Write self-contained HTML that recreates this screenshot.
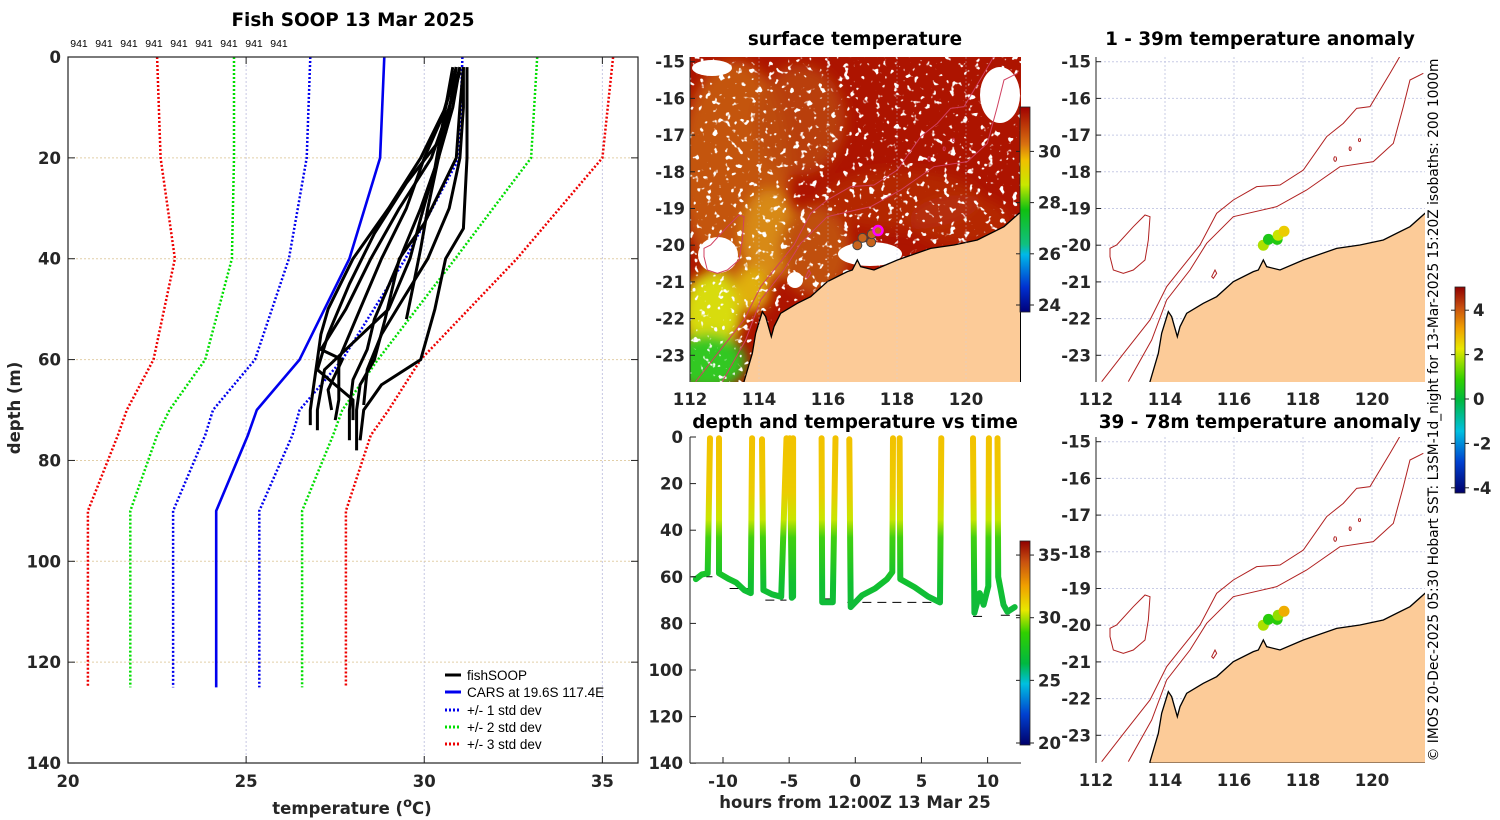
<!DOCTYPE html>
<html><head><meta charset="utf-8"><style>
html,body{margin:0;padding:0;background:#fff;}
svg{display:block;font-family:"DejaVu Sans","Liberation Sans",sans-serif;}
.tk{font-size:16.5px;font-weight:bold;fill:#262626;}
.ttl{font-size:18.4px;font-weight:bold;fill:#000;}
.lg{font-family:"Liberation Sans",sans-serif;font-size:13.5px;fill:#000;}
.sm{font-family:"Liberation Sans",sans-serif;font-size:10.5px;fill:#000;}
</style></head><body>
<svg id="fig" width="1500" height="820" viewBox="0 0 1500 820" xmlns="http://www.w3.org/2000/svg">
<defs>
 <linearGradient id="sstcb" x1="0" y1="1" x2="0" y2="0">
  <stop offset="0" stop-color="#00007a"/><stop offset="0.12" stop-color="#0030d0"/><stop offset="0.28" stop-color="#00b8e8"/>
  <stop offset="0.33" stop-color="#10c080"/><stop offset="0.5" stop-color="#10c010"/><stop offset="0.62" stop-color="#c8e800"/>
  <stop offset="0.74" stop-color="#f0c000"/><stop offset="0.82" stop-color="#d87010"/><stop offset="1" stop-color="#a00000"/>
 </linearGradient>
 <linearGradient id="anocb" x1="0" y1="1" x2="0" y2="0">
  <stop offset="0" stop-color="#00006a"/><stop offset="0.15" stop-color="#0040d0"/><stop offset="0.3" stop-color="#00c0e0"/>
  <stop offset="0.45" stop-color="#00b840"/><stop offset="0.55" stop-color="#30d000"/><stop offset="0.7" stop-color="#e8e800"/>
  <stop offset="0.8" stop-color="#f0a000"/><stop offset="0.9" stop-color="#c85010"/><stop offset="1" stop-color="#900000"/>
 </linearGradient>
 <linearGradient id="tcb" x1="0" y1="1" x2="0" y2="0">
  <stop offset="0" stop-color="#00006a"/><stop offset="0.15" stop-color="#0040d0"/><stop offset="0.3" stop-color="#00c0e0"/>
  <stop offset="0.4" stop-color="#00b840"/><stop offset="0.55" stop-color="#30d000"/><stop offset="0.66" stop-color="#e8e800"/>
  <stop offset="0.78" stop-color="#f0a000"/><stop offset="0.9" stop-color="#c85010"/><stop offset="1" stop-color="#900000"/>
 </linearGradient>
 <linearGradient id="divegrad" gradientUnits="userSpaceOnUse" x1="0" y1="437" x2="0" y2="620">
  <stop offset="0" stop-color="#f2c200"/><stop offset="0.3" stop-color="#eccc00"/><stop offset="0.45" stop-color="#c8e600"/>
  <stop offset="0.55" stop-color="#40d010"/><stop offset="0.8" stop-color="#10c030"/><stop offset="1" stop-color="#10b840"/>
 </linearGradient>
 <clipPath id="cm"><rect x="690" y="57" width="331" height="325"/></clipPath>
 <clipPath id="cr1"><rect x="1096" y="57" width="329" height="325"/></clipPath>
 <clipPath id="cr2"><rect x="1096" y="437" width="329" height="326"/></clipPath>
 <filter id="blur6"><feGaussianBlur stdDeviation="6"/></filter>
 <filter id="speck" x="0" y="0" width="1" height="1">
  <feTurbulence type="fractalNoise" baseFrequency="0.16" numOctaves="2" seed="4" result="n"/>
  <feColorMatrix in="n" type="matrix" values="0 0 0 0 1  0 0 0 0 1  0 0 0 0 1  0 0 0 12 -7.6"/>
 </filter>
</defs>

<!-- ===== LEFT PROFILE CHART ===== -->
<g id="left">
 <text class="ttl" x="353" y="26" text-anchor="middle">Fish SOOP 13 Mar 2025</text>
 <g id="lgrid"></g>
 <g id="llines"></g>
 <rect x="68" y="57" width="570" height="706" fill="none" stroke="#222" stroke-width="1.2"/>
 <g id="lticks"></g>
 <g id="n941"></g>
 <text class="tk" transform="translate(20,408) rotate(-90)" text-anchor="middle" font-size="19.5">depth (m)</text>
 <text class="tk" x="352" y="814" text-anchor="middle" font-size="20">temperature (<tspan baseline-shift="super" font-size="13">o</tspan>C)</text>
 <g id="legend">
  <line x1="445" y1="675" x2="461" y2="675" stroke="#000" stroke-width="3"/>
  <text class="lg" x="467" y="680">fishSOOP</text>
  <line x1="445" y1="692" x2="461" y2="692" stroke="#0000ee" stroke-width="3"/>
  <text class="lg" x="467" y="697">CARS at 19.6S 117.4E</text>
  <line x1="445" y1="710" x2="461" y2="710" stroke="#0000ee" stroke-width="3" stroke-dasharray="2,2"/>
  <text class="lg" x="467" y="715">+/- 1 std dev</text>
  <line x1="445" y1="727" x2="461" y2="727" stroke="#00dd00" stroke-width="3" stroke-dasharray="2,2"/>
  <text class="lg" x="467" y="732">+/- 2 std dev</text>
  <line x1="445" y1="744" x2="461" y2="744" stroke="#ee0000" stroke-width="3" stroke-dasharray="2,2"/>
  <text class="lg" x="467" y="749">+/- 3 std dev</text>
 </g>
</g>

<!-- ===== SURFACE TEMPERATURE MAP ===== -->
<g id="sstmap">
 <text class="ttl" x="855" y="45" text-anchor="middle">surface temperature</text>
 <g clip-path="url(#cm)">
  <rect x="690" y="57" width="331" height="325" fill="#ad1400"/>
  <g filter="url(#blur6)">
   <ellipse cx="735" cy="170" rx="55" ry="110" fill="#c4540c"/>
   <ellipse cx="800" cy="120" rx="45" ry="55" fill="#bb4a0c" opacity="0.8"/>
   <ellipse cx="770" cy="235" rx="28" ry="45" fill="#d88a12"/>
   <ellipse cx="815" cy="250" rx="35" ry="45" fill="#c05010"/>
   <ellipse cx="900" cy="200" rx="80" ry="30" fill="#b52a06" opacity="0.8"/>
   <ellipse cx="960" cy="220" rx="50" ry="25" fill="#b83008" opacity="0.7"/>
   <ellipse cx="712" cy="312" rx="30" ry="40" fill="#d8dc08"/>
   <ellipse cx="752" cy="290" rx="18" ry="22" fill="#e0b010"/>
   <ellipse cx="708" cy="362" rx="38" ry="28" fill="#30c820"/>
  </g>
  <rect x="690" y="57" width="331" height="325" filter="url(#speck)"/>
  <g fill="#fff">
   <ellipse cx="712" cy="68" rx="20" ry="8"/><ellipse cx="1000" cy="95" rx="20" ry="28"/>
   <ellipse cx="718" cy="255" rx="20" ry="18"/><ellipse cx="870" cy="254" rx="32" ry="12"/>
   <ellipse cx="795" cy="280" rx="8" ry="8"/>
  </g>
  <g id="mapgeo-m" transform="translate(684,40) scale(0.33333)"></g>
 </g>
 <g id="mdots"></g>
 <line x1="690" y1="57" x2="690" y2="382" stroke="#222"/>
 <g id="maxes"></g>
 <rect x="1020" y="107" width="10" height="205" fill="url(#sstcb)" stroke="#222" stroke-width="0.8"/>
 <g id="sstcbticks"></g>
</g>

<!-- ===== DEPTH/TIME PLOT ===== -->
<g id="dtplot">
 <text class="ttl" x="855" y="428" text-anchor="middle">depth and temperature vs time</text>
 <g id="dtmarks"></g>
 <line x1="690" y1="437" x2="690" y2="763" stroke="#222"/>
 <line x1="690" y1="763" x2="1021" y2="763" stroke="#222"/>
 <g id="dtaxes"></g>
 <text class="tk" x="855" y="808" text-anchor="middle" font-size="19.5">hours from 12:00Z 13 Mar 25</text>
 <rect x="1020" y="541" width="10" height="204" fill="url(#tcb)" stroke="#222" stroke-width="0.8"/>
 <g id="tcbticks"></g>
</g>

<!-- ===== ANOMALY MAPS ===== -->
<g id="ano1">
 <text class="ttl" x="1260" y="45" text-anchor="middle">1 - 39m temperature anomaly</text>
 <g id="grid-r1"></g>
 <g clip-path="url(#cr1)"><g id="mapgeo-r1" transform="translate(1090,40) scale(0.33333)"></g></g>
 <g id="r1dots"></g>
 <line x1="1096" y1="57" x2="1096" y2="382" stroke="#222"/>
 <g id="r1axes"></g>
</g>
<g id="ano2">
 <text class="ttl" x="1260" y="428" text-anchor="middle">39 - 78m temperature anomaly</text>
 <g id="grid-r2"></g>
 <g clip-path="url(#cr2)"><g id="mapgeo-r2" transform="translate(1090,420) scale(0.33333)"></g></g>
 <g id="r2dots"></g>
 <line x1="1096" y1="437" x2="1096" y2="763" stroke="#222"/>
 <g id="r2axes"></g>
</g>
<rect x="1455" y="287" width="10" height="206" fill="url(#anocb)" stroke="#222" stroke-width="0.8"/>
<g id="anocbticks"></g>
<text transform="translate(1438,410) rotate(-90)" text-anchor="middle" font-size="13.8" fill="#000">© IMOS 20-Dec-2025 05:30 Hobart SST: L3SM-1d_night for 13-Mar-2025 15:20Z isobaths: 200  1000m</text>
</svg>
<script>
// ---------- profile chart data ----------
const carsDepth = [0,20,40,60,70,75,90,125];
const carsMean  = [28.88,28.76,27.9,26.5,25.3,25.05,24.16,24.16];
const carsM1 = [26.8,26.7,26.2,25.25,24.07,23.85,22.95,22.95];
const carsP1 = [31.07,30.98,29.47,27.7,26.5,26.3,25.37,25.37];
const carsM2 = [24.66,24.66,24.6,23.85,22.85,22.5,21.75,21.75];
const carsP2 = [33.17,33.0,30.87,28.7,27.7,27.44,26.57,26.57];
const carsM3 = [22.5,22.6,23.0,22.4,21.65,21.4,20.56,20.56];
const carsP3 = [35.3,35.0,32.6,29.9,29.0,28.5,27.8,27.8];
const profDepths = [
 [2,10,20,30,40,50,55,60,65,70,73],
 [2,10,20,30,40,50,58,60,66,70],
 [2,12,20,30,40,50,60,68,72],
 [2,10,20,33,40,52,60,65,70,78],
 [2,10,20,30,40,48,55,62,69],
 [2,10,20,34,40,50,60,65,70,76],
 [3,10,20,30,38,45,52],
 [2,15,25,35,45,55,62,68,72],
 [2,10,20,30,42,52,58,64,70,76],
 [2,10,22,32,40,50,62,70,74]
];
const profTemps = [
 [30.9,30.6,29.9,29.0,28.0,27.3,27.1,27.0,26.9,26.8,26.8],
 [31.0,30.7,30.2,29.3,28.5,27.8,27.1,27.7,27.3,27.4],
 [30.9,30.5,30.0,29.5,28.8,28.2,27.6,27.6,27.5],
 [31.1,31.0,30.9,30.0,29.3,28.9,28.6,28.2,28.1,28.1],
 [31.1,31.1,31.0,30.7,30.1,29.4,28.8,28.4,28.3],
 [31.2,31.2,31.2,31.1,30.6,30.3,29.9,28.8,28.3,28.2],
 [31.0,30.7,30.4,30.1,29.9,29.7,29.5],
 [30.9,30.6,29.5,28.6,27.9,27.3,27.0,28.0,28.0],
 [31.0,30.8,30.4,29.9,29.2,28.6,28.4,28.0,27.9,27.9],
 [30.8,30.6,30.3,29.9,29.6,29.0,27.2,27.0,27.0]
];
const tTicks = [20,25,30,35];
const dTicks = [0,20,40,60,80,100,120,140];
// ---------- depth-time data ----------
const diveTimes = [
 [-12.05,-11.6,-11.16,-10.98],
 [-10.3,-10.3,-9.55,-9.0,-8.4,-7.9,-7.8],
 [-7.05,-6.95,-6.3,-5.6,-5.2],
 [-4.95,-4.8,-4.7,-4.7],
 [-2.55,-2.5,-1.7,-1.5],
 [-0.45,-0.35,0.5,1.5,2.4,2.8,2.85],
 [3.35,3.4,4.5,5.5,6.4,6.5],
 [8.9,9.0,9.4,9.7,10.05,10.1],
 [10.75,10.8,11.2,11.5,12.05]
];
const diveDepths = [
 [61,59,58.5,0.5],
 [0.5,58.5,61,62.5,65.7,67,0.5],
 [1,65.7,67.5,68.6,0.5],
 [0.5,69,68.5,0.5],
 [0.5,70.9,70.9,0.5],
 [1,73,68,65,61,58,0.5],
 [0.5,61,64.5,68.5,71,0.5],
 [0.5,75.5,67,72,64,0.5],
 [0.5,60,72,75,73]
];
const bottomT0 = [-12.4,-9.5,-6.8,-2.5,-0.6,8.9,11.0];
const bottomT1 = [-10.8,-7.9,-5.2,-1.5,6.5,10.0,12.6];
const bottomD  = [60,65,70,69.5,71,77,76.5];
const hourTicks = [-10,-5,0,5,10];
const dtDepthTicks = [0,20,40,60,80,100,120,140];
// ---------- map dots ----------
const sstDotLon = [116.85,117.0,117.25,117.27];
const sstDotLat = [-20.0,-19.8,-19.92,-19.7];
const shipLon = [117.45], shipLat = [-19.6];
const anoLon = [116.85,117.0,117.25,117.28,117.45];
const anoLat = [-20.0,-19.84,-19.84,-19.73,-19.62];
const ano1 = [2.0,0.7,0.8,2.2,2.8];
const ano2 = [2.0,0.9,0.9,1.8,3.2];
const lonTicks = [112,114,116,118,120];
const latTicks = [-15,-16,-17,-18,-19,-20,-21,-22,-23];
const sstCbTicks = [24,26,28,30];
const tCbTicks = [20,25,30,35];
const anoCbTicks = [4,2,0,-2,-4];

const NS="http://www.w3.org/2000/svg";
function mk(parent,tag,attrs){const e=document.createElementNS(NS,tag);for(const k in attrs)e.setAttribute(k,attrs[k]);parent.appendChild(e);return e;}
function txt(parent,x,y,s,anchor,cls){const e=mk(parent,'text',{x:x,y:y,'text-anchor':anchor||'middle','class':cls||'tk'});e.textContent=s;return e;}
const $=id=>document.getElementById(id);

// ----- left chart -----
const xT=t=>68+(t-20)*35.625, yD=d=>57+d*5.043;
const lg=$('lgrid');
tTicks.forEach(t=>{ if(t>20){const l=mk(lg,'line',{x1:xT(t),x2:xT(t),y1:57,y2:763,stroke:'#c6c8e4','stroke-dasharray':'2,2'});

}});
dTicks.forEach(d=>{ if(d>0&&d<140){const l=mk(lg,'line',{x1:68,x2:638,y1:yD(d),y2:yD(d),stroke:'#e2cfa8','stroke-dasharray':'2,2'});

}});
const ll=$('llines');
function pline(ds,ts,col,w,dash,name){const pts=ds.map((d,i)=>xT(ts[i]).toFixed(1)+','+yD(d).toFixed(1)).join(' ');
 const p=mk(ll,'polyline',{points:pts,fill:'none',stroke:col,'stroke-width':w,'stroke-linejoin':'round'});
 if(dash)p.setAttribute('stroke-dasharray',dash);
 
 }
pline(carsDepth,carsM3,'#ee0000',2.5,'2,2','cars-minus-3std');
pline(carsDepth,carsP3,'#ee0000',2.5,'2,2','cars-plus-3std');
pline(carsDepth,carsM2,'#00dd00',2.5,'2,2','cars-minus-2std');
pline(carsDepth,carsP2,'#00dd00',2.5,'2,2','cars-plus-2std');
pline(carsDepth,carsM1,'#0000ee',2.5,'2,2','cars-minus-1std');
pline(carsDepth,carsP1,'#0000ee',2.5,'2,2','cars-plus-1std');
pline(carsDepth,carsMean,'#0000ee',2.6,null,'cars-mean');
profDepths.forEach((ds,i)=>pline(ds,profTemps[i],'#000',3,null,'fishsoop-profile'));
const lt=$('lticks');
tTicks.forEach(t=>{mk(lt,'line',{x1:xT(t),x2:xT(t),y1:763,y2:756,stroke:'#222'});mk(lt,'line',{x1:xT(t),x2:xT(t),y1:57,y2:64,stroke:'#222'});
 const e=txt(lt,xT(t),787,String(t));
 
 });
dTicks.forEach(d=>{mk(lt,'line',{x1:68,x2:75,y1:yD(d),y2:yD(d),stroke:'#222'});mk(lt,'line',{x1:638,x2:631,y1:yD(d),y2:yD(d),stroke:'#222'});
 const e=txt(lt,61,yD(d)+6,String(d),'end');
 
 });
const n9=$('n941');
for(let i=0;i<9;i++){const e=txt(n9,79+i*25,47,'941','middle','sm');
 
 }

// ----- maps -----
const coast="M180,1025 L205,940 L215,880 L235,815 L245,830 L262,890 L270,860 L290,820 L340,790 L380,770 L430,725 L490,695 L505,690 L520,660 L530,680 L570,690 L640,660 L740,625 L810,615 L880,600 L960,560 L1005,520 L1010,520 L1010,1030 L180,1030 Z";
const iso1="M35,1025 L105,935 L180,840 L230,740 L270,690 L330,615 L380,520 L430,480 L500,440 L570,435 L640,390 L710,290 L760,250 L800,205 L840,200 L900,100 L935,40";
const iso2="M115,1025 L185,900 L230,780 L300,690 L350,610 L430,530 L560,500 L650,450 L750,380 L850,365 L910,310 L940,200 L960,120 L1000,100";
const island="M60,625 L80,615 L130,560 L165,525 L180,530 L175,600 L165,660 L130,690 L100,700 L70,690 L60,650 Z";
function geo(id,red){const g=$(id);
 const l=mk(g,'path',{d:coast,fill:'#fccb98',stroke:'#000','stroke-width':1.3,'vector-effect':'non-scaling-stroke'});
 
 
 [iso1,iso2].forEach(d=>{const p=mk(g,'path',{d:d,fill:'none',stroke:red,'stroke-width':1,'vector-effect':'non-scaling-stroke'});
  
  });
 const is=mk(g,'path',{d:island,fill:'none',stroke:red,'stroke-width':1,'vector-effect':'non-scaling-stroke'});
 
 
 const sm=mk(g,'path',{d:"M365,710 L375,690 L380,700 L370,715 Z M735,350 a4,7 0 1,0 1,0 M780,320 a3,6 0 1,0 1,0 M808,295 a3,5 0 1,0 1,0",fill:'none',stroke:red,'stroke-width':1,'vector-effect':'non-scaling-stroke'});
 
 
}
geo('mapgeo-m','#d04060');geo('mapgeo-r1','#b02020');geo('mapgeo-r2','#b02020');
function mapAxes(gid,gridId,x0,y0,h){
 const lx=lon=>x0+(lon-112)*34.5, ly=lat=>y0+4.7+(-15-lat)*36.7;
 const g=$(gid);
 if(gridId){const gg=$(gridId);
  lonTicks.forEach(lo=>{if(lo>112)mk(gg,'line',{x1:lx(lo),x2:lx(lo),y1:y0,y2:y0+h,stroke:'#c8cce6','stroke-dasharray':'2,2'});});
  latTicks.forEach(la=>mk(gg,'line',{x1:x0,x2:x0+329,y1:ly(la),y2:ly(la),stroke:'#c8cce6','stroke-dasharray':'2,2'}));}
 lonTicks.forEach(lo=>{const e=txt(g,lx(lo),y0+h+23,String(lo));
  
  });
 latTicks.forEach(la=>{mk(g,'line',{x1:x0,x2:x0+5,y1:ly(la),y2:ly(la),stroke:'#222'});
  const e=txt(g,x0-5,ly(la)+6,String(la),'end');
  
  });
 return [lx,ly];
}
const [mx,my]=mapAxes('maxes',null,690,57,325);
const gm=$('maxes');
lonTicks.forEach(lo=>{if(lo>112)mk(gm,'line',{x1:mx(lo),x2:mx(lo),y1:57,y2:382,stroke:'#c8cce6','stroke-dasharray':'2,2','stroke-opacity':0.4});});
const [r1x,r1y]=mapAxes('r1axes','grid-r1',1096,57,325);
const [r2x,r2y]=mapAxes('r2axes','grid-r2',1096,437,326);
const md=$('mdots');
sstDotLon.forEach((lo,i)=>{const c=mk(md,'circle',{cx:mx(lo),cy:my(sstDotLat[i]),r:4.5,fill:'#c8641c',stroke:'#444','stroke-width':1});
 
 });
shipLon.forEach((lo,i)=>{const c=mk(md,'circle',{cx:mx(lo),cy:my(shipLat[i]),r:4.5,fill:'#c8641c',stroke:'#ff00ff','stroke-width':2.5});
 
 });
function anoColor(v){const f=Math.max(0,Math.min(1,(v+4)/9.2));
 const st=[[0,[0,0,106]],[0.15,[0,64,208]],[0.3,[0,192,224]],[0.45,[0,184,64]],[0.55,[48,208,0]],[0.7,[232,232,0]],[0.8,[240,160,0]],[0.9,[200,80,16]],[1,[144,0,0]]];
 for(let i=1;i<st.length;i++){if(f<=st[i][0]){const a=st[i-1],b=st[i],u=(f-a[0])/(b[0]-a[0]);
  return 'rgb('+a[1].map((c,k)=>Math.round(c+(b[1][k]-c)*u)).join(',')+')';}} return 'rgb(144,0,0)';}
[[ 'r1dots',ano1,r1x,r1y],['r2dots',ano2,r2x,r2y]].forEach(([id,vals,fx,fy])=>{const g=$(id);
 anoLon.forEach((lo,i)=>{const c=mk(g,'circle',{cx:fx(lo),cy:fy(anoLat[i]),r:5.5,fill:anoColor(vals[i])});
  
  });});
// colorbar ticks
function cbTicks(id,vals,x,yOf){const g=$(id);vals.forEach(v=>{const y=yOf(v);
 mk(g,'line',{x1:x-4,x2:x,y1:y,y2:y,stroke:'#222'});mk(g,'line',{x1:x+10,x2:x+14,y1:y,y2:y,stroke:'#222'});
 const e=txt(g,x+18,y+6,String(v),'start');
 
 });}
cbTicks('sstcbticks',sstCbTicks,1020,v=>305-(v-24)*25.6);
cbTicks('tcbticks',tCbTicks,1020,v=>743-(v-20)*12.53);
cbTicks('anocbticks',anoCbTicks,1455,v=>399-v*22.2);

// ----- depth/time -----
const hx=h=>855.3+h*13.23, dy=d=>437+d*2.33;
const dm=$('dtmarks');
bottomD.forEach((d,i)=>{const l=mk(dm,'line',{x1:hx(bottomT0[i]),x2:hx(bottomT1[i]),y1:dy(d),y2:dy(d),stroke:'#000','stroke-width':1,'stroke-dasharray':'9,6'});
 
 });
diveTimes.forEach((ts,i)=>{const pts=ts.map((t,k)=>hx(t).toFixed(1)+','+dy(diveDepths[i][k]).toFixed(1)).join(' ');
 const p=mk(dm,'polyline',{points:pts,fill:'none',stroke:'url(#divegrad)','stroke-width':6,'stroke-linejoin':'round','stroke-linecap':'round'});
 
 });
const da=$('dtaxes');
hourTicks.forEach(h=>{mk(da,'line',{x1:hx(h),x2:hx(h),y1:763,y2:757,stroke:'#222'});
 const e=txt(da,hx(h),787,String(h));
 
 });
dtDepthTicks.forEach(d=>{mk(da,'line',{x1:690,x2:696,y1:dy(d),y2:dy(d),stroke:'#222'});
 const e=txt(da,683,dy(d)+6,String(d),'end');
 
 });
</script>
</body></html>
